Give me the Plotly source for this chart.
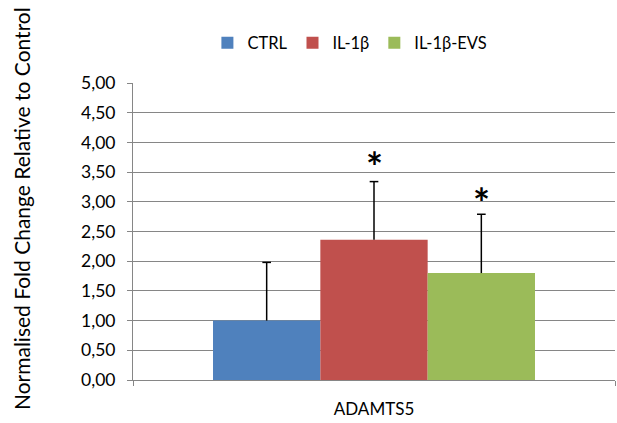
import plotly.graph_objects as go

category = "ADAMTS5"
series_names = ["CTRL", "IL-1β", "IL-1β-EVS"]
values = [1.00, 2.36, 1.80]
errors = [0.98, 0.98, 0.99]
colors = ["#4F81BD", "#C0504D", "#9BBB59"]
star_heights = [None, 3.70, 3.09]   # significance marker positions
y_title = "Normalised Fold Change Relative to Control"

FONT = "Lato"

n = len(series_names)
group_w = 0.668
bw = group_w / n
cap = 0.009

fig = go.Figure()
for i, (name, v, e, c) in enumerate(zip(series_names, values, errors, colors)):
    xc = -group_w / 2 + bw * (i + 0.5)
    fig.add_trace(go.Bar(x=[xc], y=[v], width=[bw], name=name, marker_color=c,
                         marker_line_width=0))
for i, (v, e) in enumerate(zip(values, errors)):
    xc = -group_w / 2 + bw * (i + 0.5)
    fig.add_trace(go.Scatter(
        x=[xc, xc, None, xc - cap, xc + cap], y=[v, v + e, None, v + e, v + e],
        mode="lines", line=dict(color="black", width=1.5), showlegend=False,
        hoverinfo="skip"))
for i, s in enumerate(star_heights):
    if s is not None:
        xc = -group_w / 2 + bw * (i + 0.5)
        fig.add_annotation(x=xc, y=s, xref="x", yref="y", text="<b>*</b>",
                           showarrow=False, yanchor="middle", yshift=-7,
                           font=dict(family=FONT, size=40, color="black"))

fig.add_annotation(x=-0.230, y=0.576, xref="paper", yref="paper", text=y_title,
                   textangle=-90, showarrow=False, xanchor="center", yanchor="middle",
                   font=dict(family=FONT, size=21, color="black"))

fig.update_layout(
    width=617, height=423,
    margin=dict(l=133, r=2, t=83, b=43),
    paper_bgcolor="white", plot_bgcolor="white",
    barmode="overlay",
    separators=",.",
    font=dict(family=FONT, size=17, color="black"),
    showlegend=True,
    legend=dict(orientation="h", x=0.45, xanchor="center", y=1.135, yanchor="middle",
                font=dict(family=FONT, size=16.5), itemwidth=30, traceorder="normal"),
    xaxis=dict(range=[-0.5, 0.5], tickvals=[0], ticktext=[category], ticks="",
               showline=True, linecolor="#868686", linewidth=1, showgrid=False,
               zeroline=False, ticklabelstandoff=14,
               minor=dict(ticks="outside", tick0=-0.5, dtick=1, ticklen=5,
                          tickcolor="#868686", showgrid=False),
               tickfont=dict(size=17)),
    yaxis=dict(range=[0, 5], dtick=0.5, tickformat=".2f", showline=True,
               linecolor="#868686", linewidth=1, ticks="outside", ticklen=5,
               tickcolor="#868686", gridcolor="#868686", gridwidth=1,
               zeroline=False, tickfont=dict(size=17.5), ticklabelstandoff=8),
)
fig.write_html("out.html")
